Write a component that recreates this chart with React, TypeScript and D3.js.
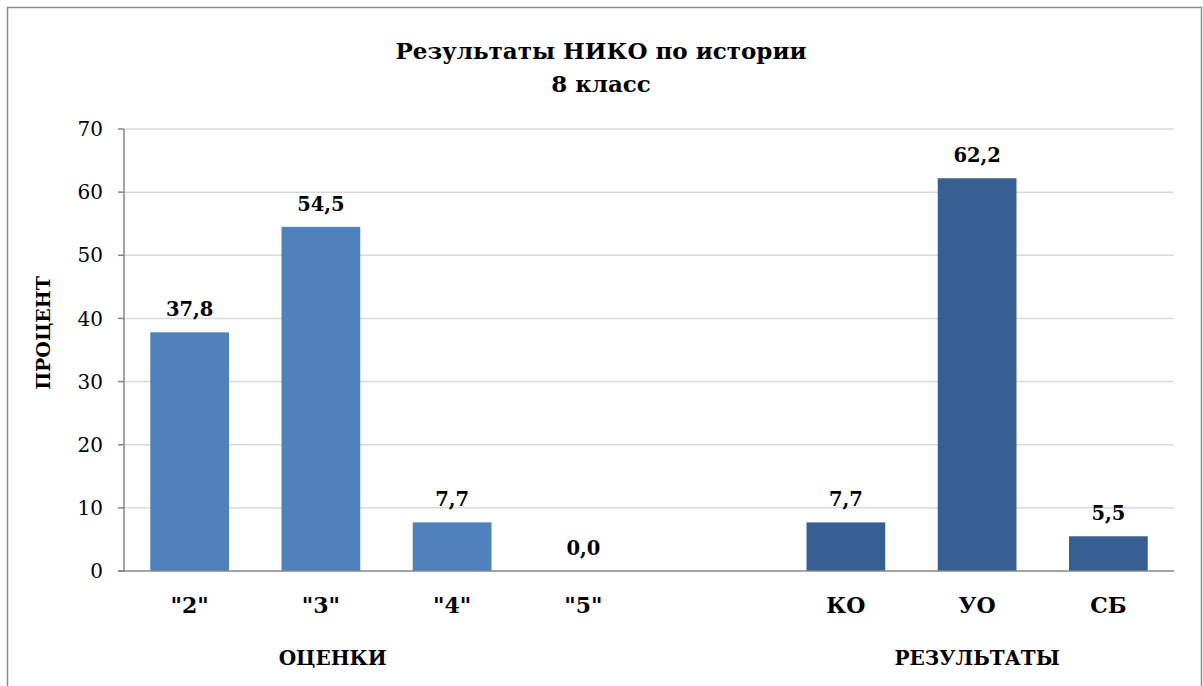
import * as d3 from 'd3';

// Data
const gradeLabels = ['"2"', '"3"', '"4"', '"5"'];
const gradeValues = [37.8, 54.5, 7.7, 0.0];
const resultLabels = ['КО', 'УО', 'СБ'];
const resultValues = [7.7, 62.2, 5.5];
const yTicks = [0, 10, 20, 30, 40, 50, 60, 70];
const GAP = '__gap__';

const W = 1203;
const H = 686;
const PLOT = { left: 124, right: 1174, top: 129, bottom: 571 };
const FONT = '"DejaVu Serif", "Liberation Serif", serif';
const COLOR_GRADES = '#4f81bd';
const COLOR_RESULTS = '#376092';

export default function App() {
  const domain = [...gradeLabels, GAP, ...resultLabels];
  const x = d3.scaleBand<string>().domain(domain).range([PLOT.left, PLOT.right])
    .paddingInner(0.4).paddingOuter(0.2);
  const y = d3.scaleLinear().domain([0, 70]).range([PLOT.bottom, PLOT.top]);

  const bars = [
    ...gradeLabels.map((c, i) => ({ c, v: gradeValues[i], color: COLOR_GRADES })),
    ...resultLabels.map((c, i) => ({ c, v: resultValues[i], color: COLOR_RESULTS })),
  ];
  const bw = x.bandwidth();
  const cx = (c: string) => (x(c) ?? 0) + bw / 2;

  return (
    <div style={{ position: 'fixed', left: 0, top: 0, width: W, height: H, background: '#fff' }}>
      <svg width={W} height={H} style={{ display: 'block' }} fontFamily={FONT}>
        <rect x={0} y={0} width={W} height={H} fill="#fff" />
        {/* chart frame */}
        <rect x={7.5} y={7.5} width={1194} height={700} fill="none" stroke="#8a8a8a" strokeWidth={1.5} />

        {/* title */}
        <text x={601} y={59} textAnchor="middle" fontSize={23} fontWeight="bold" fill="#000">
          Результаты НИКО по истории
        </text>
        <text x={601} y={92} textAnchor="middle" fontSize={23} fontWeight="bold" fill="#000">
          8 класс
        </text>

        {/* gridlines */}
        {yTicks.filter(t => t > 0).map(t => (
          <line key={t} x1={PLOT.left} x2={PLOT.right} y1={y(t)} y2={y(t)} stroke="#d9d9d9" strokeWidth={1.5} />
        ))}

        {/* y axis */}
        <line x1={PLOT.left} x2={PLOT.left} y1={y(70)} y2={y(0)} stroke="#868686" strokeWidth={1.5} />
        {yTicks.map(t => (
          <g key={t}>
            <line x1={PLOT.left - 6} x2={PLOT.left} y1={y(t)} y2={y(t)} stroke="#868686" strokeWidth={1.5} />
            <text x={PLOT.left - 21} y={y(t)} dy="0.36em" textAnchor="end" fontSize={20} fill="#000">{t}</text>
          </g>
        ))}

        {/* bars */}
        {bars.map(b => (
          <rect key={b.c} x={x(b.c)} y={y(b.v)} width={bw} height={y(0) - y(b.v)} fill={b.color} />
        ))}

        {/* x axis */}
        <line x1={PLOT.left - 6} x2={PLOT.right} y1={y(0)} y2={y(0)} stroke="#868686" strokeWidth={1.5} />

        {/* value labels */}
        {bars.map(b => (
          <text key={b.c} x={cx(b.c)} y={y(b.v) - 16} textAnchor="middle" fontSize={19.5} fontWeight="bold" fill="#000">
            {b.v.toFixed(1).replace('.', ',')}
          </text>
        ))}

        {/* category labels */}
        {bars.map(b => (
          <text key={b.c} x={cx(b.c)} y={613} textAnchor="middle" fontSize={22} fontWeight="bold" fill="#000">
            {b.c}
          </text>
        ))}

        {/* group labels */}
        <text x={cx(gradeLabels[1]) + bw * 0.15} y={665} textAnchor="middle" fontSize={20} fontWeight="bold" fill="#000">
          ОЦЕНКИ
        </text>
        <text x={cx(resultLabels[1])} y={665} textAnchor="middle" fontSize={20} fontWeight="bold" fill="#000">
          РЕЗУЛЬТАТЫ
        </text>

        {/* y axis title */}
        <text transform="translate(50, 333) rotate(-90)" textAnchor="middle" fontSize={19} fontWeight="bold" fill="#000">
          ПРОЦЕНТ
        </text>
      </svg>
    </div>
  );
}
